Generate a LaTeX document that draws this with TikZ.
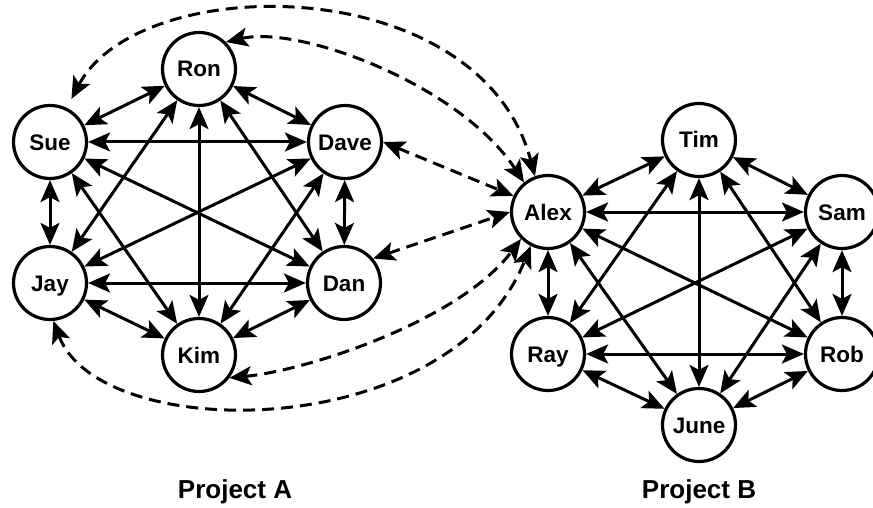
\documentclass[tikz,border=0pt]{standalone}
\usepackage{fontspec}
\setmainfont{Liberation Sans}
\usetikzlibrary{arrows.meta}
\begin{document}
\begin{tikzpicture}[x=1pt,y=-1pt,
  person/.style={circle,draw,fill=white,line width=3.2pt,minimum size=73pt,inner sep=0pt,
    text height=16pt,text depth=0pt,font=\bfseries\fontsize{22.5}{26}\selectfont},
  link/.style={line width=3pt,
    {Stealth[length=22pt,width=19pt,inset=5pt]}-{Stealth[length=22pt,width=19pt,inset=5pt]}},
  crosslink/.style={link,dash pattern=on 12pt off 7pt},
  caption/.style={font=\bfseries\fontsize{26}{30}\selectfont}]
\useasboundingbox (0,0) rectangle (873,508);

% Project A team
\node[person] (ron)  at (199,69)  {Ron};
\node[person] (sue)  at (50,142)  {Sue};
\node[person] (dave) at (345,142) {Dave};
\node[person] (jay)  at (50,283)  {Jay};
\node[person] (dan)  at (344,283) {Dan};
\node[person] (kim)  at (199,355) {Kim};

% Project B team
\node[person] (tim)  at (699,140) {Tim};
\node[person] (alex) at (548,212) {Alex};
\node[person] (sam)  at (842,212) {Sam};
\node[person] (ray)  at (548,354) {Ray};
\node[person] (rob)  at (842,354) {Rob};
\node[person] (june) at (699,425) {June};

% everyone in a team talks to everyone else
\foreach \a/\b in {ron/sue,ron/dave,ron/jay,ron/dan,ron/kim,
                   sue/dave,sue/jay,sue/dan,sue/kim,
                   dave/jay,dave/dan,dave/kim,
                   jay/dan,jay/kim,dan/kim}
  \draw[link] (\a) -- (\b);
\foreach \a/\b in {tim/alex,tim/sam,tim/ray,tim/rob,tim/june,
                   alex/sam,alex/ray,alex/rob,alex/june,
                   sam/ray,sam/rob,sam/june,
                   ray/rob,ray/june,rob/june}
  \draw[link] (\a) -- (\b);

% Alex bridges both teams
\draw[crosslink,shorten <=10pt] (sue.64) .. controls (140,-30) and (480,-30) .. (alex.110);
\draw[crosslink] (ron.45) .. controls (300,25) and (460,85) .. (alex.129);
\draw[crosslink] (dave.0) -- (alex.155);
\draw[crosslink] (dan.40) -- (alex.180);
\draw[crosslink] (kim.-37) .. controls (310,370) and (460,320) .. (alex.225);
\draw[crosslink] (jay.-85) .. controls (100,445) and (450,445) .. (alex.243);

% team captions
\node[caption] (capA) at (235,492) {Project A};
\node[caption] (capB) at (699,492) {Project B};
\end{tikzpicture}
\end{document}
